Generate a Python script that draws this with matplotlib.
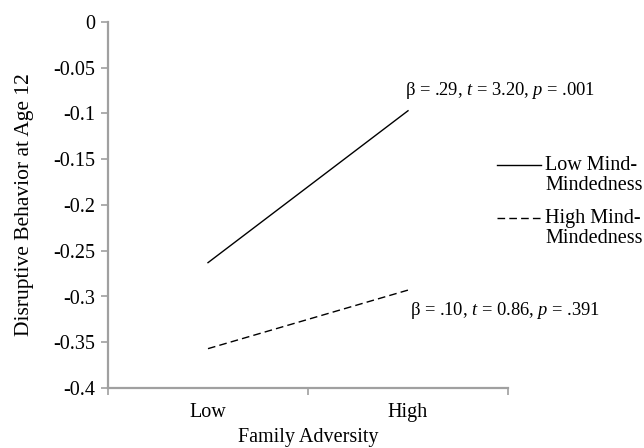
import matplotlib
matplotlib.use("Agg")
import matplotlib.pyplot as plt
from matplotlib.lines import Line2D

plt.rcParams['font.family'] = ['Liberation Serif', 'DejaVu Serif']
plt.rcParams['mathtext.fontset'] = 'custom'
plt.rcParams['mathtext.rm'] = 'Liberation Serif'
plt.rcParams['mathtext.it'] = 'Liberation Serif:italic'

categories = ["Low", "High"]
low_mm = [-0.263, -0.097]
high_mm = [-0.357, -0.293]
yticks = [0, -0.05, -0.1, -0.15, -0.2, -0.25, -0.3, -0.35, -0.4]
ytick_labels = ["0", "-0.05", "-0.1", "-0.15", "-0.2", "-0.25", "-0.3", "-0.35", "-0.4"]
ann_low = "β = .29, $t$ = 3.20, $p$ = .001"
ann_high = "β = .10, $t$ = 0.86, $p$ = .391"
legend_labels = ["Low Mind-\nMindedness", "High Mind-\nMindedness"]

W, H = 644, 448
fig = plt.figure(figsize=(W/100, H/100), dpi=100)
ax = fig.add_axes([108/W, 1-388/H, 400/W, (388-22)/H])

dash = (0, (5.5, 3))
x = [0.5, 1.5]
ax.plot(x, low_mm, color='black', lw=1.0)
ax.plot(x, high_mm, color='black', lw=1.0, ls=dash)

ax.set_xlim(0, 2)
ax.set_ylim(-0.4, 0)
ax.set_yticks(yticks)
ax.set_yticklabels(ytick_labels)
ax.set_xticks([0, 1, 2])
ax.set_xticklabels([])
ax.set_xticks(x, minor=True)
ax.set_xticklabels(categories, minor=True)
gray = '#a0a0a0'
ax.tick_params(axis='x', which='minor', length=0, pad=11, labelsize=14.5)
ax.tick_params(axis='x', which='major', length=5, width=1.2, color=gray, direction='out')
ax.tick_params(axis='y', length=5, width=1.2, color=gray, labelsize=14.5, pad=4)

for s in ['top', 'right']:
    ax.spines[s].set_visible(False)
for s in ['left', 'bottom']:
    ax.spines[s].set_color(gray)
    ax.spines[s].set_linewidth(1.6)

ax.set_xlabel("Family Adversity", fontsize=14.5, labelpad=4)
ax.set_ylabel("Disruptive Behavior at Age 12", fontsize=15.5, labelpad=14)

ax.text(1.485, -0.075, ann_low, fontsize=13.3, va='center', ha='left')
ax.text(1.51, -0.315, ann_high, fontsize=13.3, va='center', ha='left')

# legend drawn manually (line aligned with first text line)
styles = ['-', dash]
rows = [165, 218]
for lab, st, yy in zip(legend_labels, styles, rows):
    fig.add_artist(Line2D([497/W, 541/W], [1-yy/H, 1-yy/H], color='black', lw=1.0,
                          ls=st, transform=fig.transFigure))
    fig.text(545/W, 1-(yy-9)/H, lab, fontsize=14.5, va='top', ha='left',
             linespacing=1.05)

fig.savefig("out.png", dpi=100)
